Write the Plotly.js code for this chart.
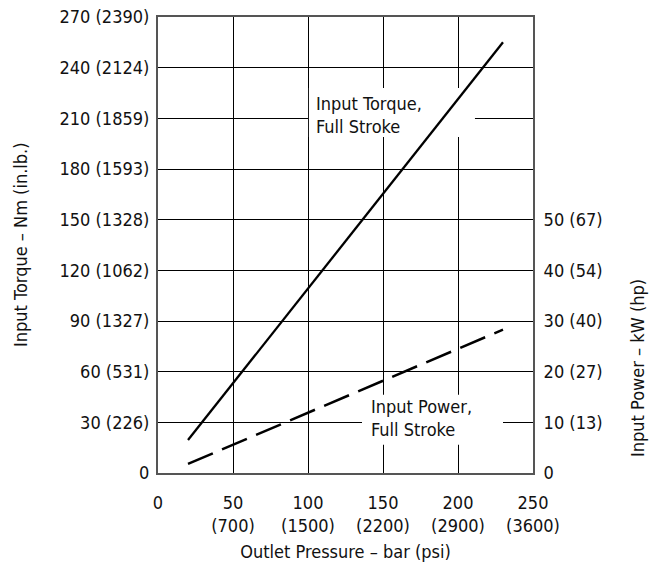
<!DOCTYPE html>
<html><head><meta charset="utf-8">
<script src="https://cdn.plot.ly/plotly-3.0.1.min.js"></script>
<style>html,body{margin:0;padding:0;background:#fff}#chart{width:652px;height:570px}</style>
</head><body><div id="chart"></div>
<script>
// Data
const pressure = [20, 230];                 // bar
const torqueNm = [19.5, 255];               // Nm (left axis)
const powerKW = [1.8, 28.3];                // kW (right axis)

const xTickVals = [0, 50, 100, 150, 200, 250];
const xTickText = ["0", "50<br>(700)", "100<br>(1500)", "150<br>(2200)", "200<br>(2900)", "250<br>(3600)"];
const yTickVals = [0, 30, 60, 90, 120, 150, 180, 210, 240, 270];
const yTickText = ["0", "30 (226)", "60 (531)", "90 (1327)", "120 (1062)", "150 (1328)", "180 (1593)", "210 (1859)", "240 (2124)", "270 (2390)"];
const y2TickVals = [0, 10, 20, 30, 40, 50];
const y2TickText = ["0", "10 (13)", "20 (27)", "30 (40)", "40 (54)", "50 (67)"];

const FONT = '"Liberation Sans Narrow", "DejaVu Sans Condensed", "Roboto Condensed", sans-serif';
const fsz = 18;

const traces = [
  {x: pressure, y: torqueNm, mode: 'lines', line: {color: '#000', width: 2.3}, xaxis: 'x', yaxis: 'y', hoverinfo: 'skip'},
  {x: pressure, y: powerKW, mode: 'lines', line: {color: '#000', width: 2.5, dash: '27px,10px'}, xaxis: 'x', yaxis: 'y2', hoverinfo: 'skip'}
];

const layout = {
  width: 652, height: 570,
  margin: {l: 158, r: 119, t: 17, b: 97},
  paper_bgcolor: '#fff', plot_bgcolor: '#fff',
  showlegend: false,
  font: {family: FONT, size: fsz, color: '#111'},
  xaxis: {
    range: [0, 250], tickvals: xTickVals, ticktext: xTickText,
    showgrid: true, gridcolor: '#000', gridwidth: 1,
    showline: true, linecolor: '#555', linewidth: 2, mirror: true,
    ticks: 'outside', ticklen: 12, tickcolor: 'rgba(0,0,0,0)',
    zeroline: false, fixedrange: true,
    title: {text: 'Outlet Pressure – bar (psi)', standoff: 10, font: {size: fsz}}
  },
  yaxis: {
    range: [0, 270], tickvals: yTickVals, ticktext: yTickText,
    showgrid: true, gridcolor: '#000', gridwidth: 1,
    showline: true, linecolor: '#555', linewidth: 2, mirror: true,
    ticks: 'outside', ticklen: 3, tickcolor: 'rgba(0,0,0,0)',
    zeroline: false, fixedrange: true
  },
  yaxis2: {
    range: [0, 90], overlaying: 'y', side: 'right',
    tickvals: y2TickVals, ticktext: y2TickText,
    showgrid: false, showline: false, zeroline: false,
    ticks: 'outside', ticklen: 6, tickcolor: 'rgba(0,0,0,0)', fixedrange: true
  },
  shapes: [
    {type: 'rect', xref: 'x', yref: 'y', x0: 100.6, x1: 211.3, y0: 199, y1: 228,
     fillcolor: '#fff', line: {width: 0}, layer: 'between'},
    {type: 'rect', xref: 'x', yref: 'y', x0: 136, x1: 230, y0: 16.7, y1: 46.3,
     fillcolor: '#fff', line: {width: 0}, layer: 'between'}
  ],
  annotations: [
    {text: 'Input Torque,<br>Full Stroke', xref: 'x', yref: 'y', x: 104, y: 212,
     xanchor: 'left', yanchor: 'middle', align: 'left', showarrow: false, font: {size: fsz}},
    {text: 'Input Power,<br>Full Stroke', xref: 'x', yref: 'y', x: 140.5, y: 32.7,
     xanchor: 'left', yanchor: 'middle', align: 'left', showarrow: false, font: {size: fsz}},
    {text: 'Input Torque – Nm (in.lb.)', xref: 'paper', yref: 'paper', x: 0, y: 0.5,
     xanchor: 'center', yanchor: 'middle',
     textangle: -90, showarrow: false, font: {size: fsz}},
    {text: 'Input Power – kW (hp)', xref: 'paper', yref: 'paper', x: 1, y: 0.25,
     xanchor: 'center', yanchor: 'middle',
     textangle: -90, showarrow: false, font: {size: fsz}}
  ]
};

// place the rotated titles in pixel terms
const plotW = 652 - 158 - 119, plotH = 570 - 17 - 97;
layout.annotations[2].x = (20 - 158) / plotW;
layout.annotations[2].y = (570 - 97 - 245) / plotH;
layout.annotations[3].x = (637 - 158) / plotW;
layout.annotations[3].y = (570 - 97 - 368) / plotH;

Plotly.newPlot('chart', traces, layout, {displayModeBar: false, staticPlot: true});
</script>
</body></html>
